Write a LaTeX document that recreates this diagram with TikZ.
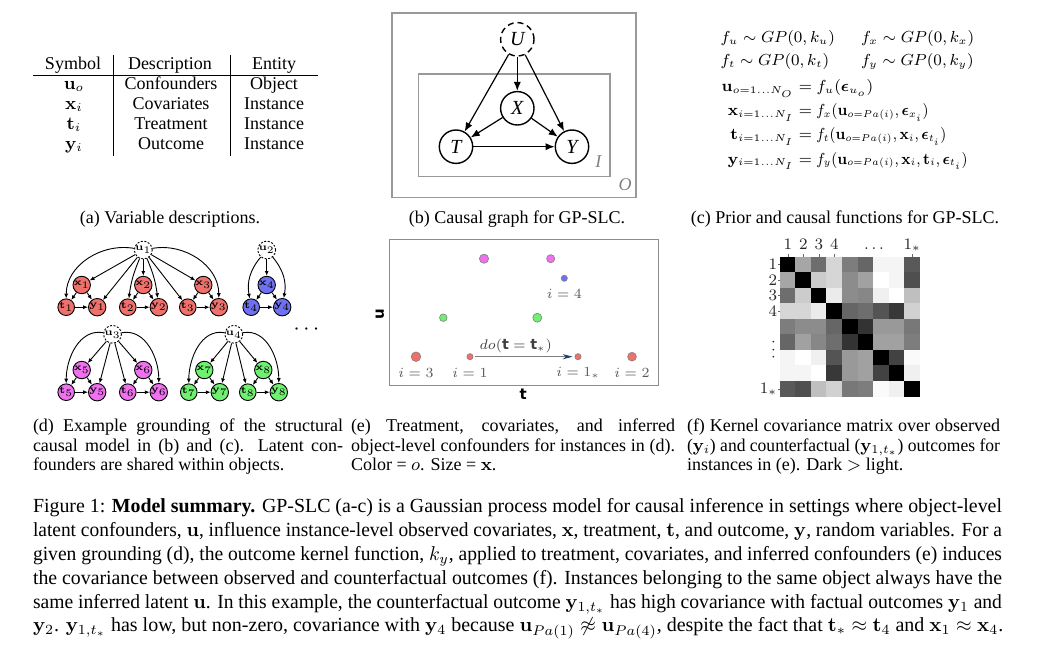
\documentclass[tikz,border=0pt]{standalone}
\usepackage[no-math]{fontspec}
\setmainfont{Liberation Serif}
\newfontfamily\dejavu{DejaVu Sans}
\usepackage{amsmath,amssymb,graphicx}
\usetikzlibrary{arrows.meta}
\definecolor{nred}{RGB}{240,112,108}
\definecolor{nblue}{RGB}{112,112,242}
\definecolor{nmag}{RGB}{240,112,240}
\definecolor{ngreen}{RGB}{112,240,112}
\definecolor{arrowblue}{RGB}{25,65,110}
\newcommand{\capfont}{\fontsize{10}{12}\selectfont}
\newcommand{\subcapfont}{\fontsize{9}{9.75}\selectfont}
% justified single line: spread spaces, or squeeze horizontally if too wide
\newcommand{\jline}[2]{\setbox0=\hbox{#2}\ifdim\wd0>#1\relax\resizebox{#1}{\height}{#2}\else\makebox[#1][s]{#2}\fi}
\begin{document}
\begin{tikzpicture}[x=0.5pt,y=-0.5pt,
  txt/.style={inner sep=0pt,outer sep=0pt},
  tabtxt/.style={txt,anchor=base,font=\fontsize{9}{10}\selectfont},
  bnode/.style={circle,draw,line width=0.7pt,minimum size=16.7pt,inner sep=0pt,font=\fontsize{10}{10}\selectfont\itshape},
  barrow/.style={-{Latex[length=4.5pt,width=3.6pt]},line width=0.6pt},
  platebox/.style={draw=black!40,line width=0.8pt},
  platelabel/.style={txt,text=black!50,font=\fontsize{9}{9}\selectfont\itshape},
  dnode/.style={circle,draw,line width=0.45pt,minimum size=7.6pt,inner sep=0pt,font=\fontsize{5.5}{5.5}\selectfont},
  unode/.style={dnode,fill=white,dash pattern=on 1pt off 0.8pt},
  darrow/.style={-{Latex[length=2.4pt,width=2pt]},line width=0.45pt},
  pnt/.style={circle,draw=black!50,line width=0.3pt,inner sep=0pt},
  plab/.style={txt,text=black!65,font=\fontsize{7.2}{7.2}\selectfont},
  eqtxt/.style={txt,font=\fontsize{7.8}{9}\selectfont},
  mlab/.style={txt,font=\fontsize{8}{8}\selectfont,text=black!85},
  sublinestyle/.style={txt,anchor=base west,font=\subcapfont},
  caplinestyle/.style={txt,anchor=base west,font=\capfont}
]
\useasboundingbox (0,0) rectangle (1061,658);

% ---------------- (a) table ----------------
\node[tabtxt] (hsym) at (73,69.3) {Symbol};
\node[tabtxt] (hdesc) at (170,69.3) {Description};
\node[tabtxt] (hent) at (274,69.3) {Entity};
\foreach \s/\d/\e [count=\k] in {{$\mathbf{u}_o$}/Confounders/Object,{$\mathbf{x}_i$}/Covariates/Instance,{$\mathbf{t}_i$}/Treatment/Instance,{$\mathbf{y}_i$}/Outcome/Instance}{
  \node[tabtxt] (sym\k) at (74,{69.3+20*\k}) {\s};
  \node[tabtxt] (desc\k) at (171,{69.3+20*\k}) {\d};
  \node[tabtxt] (ent\k) at (274,{69.3+20*\k}) {\e};
}
\draw[line width=0.45pt] (33,75) -- (318,75);
\draw[line width=0.45pt] (113.3,55) -- (113.3,156);
\draw[line width=0.45pt] (230.7,55) -- (230.7,156);
\node[txt,anchor=base,font=\subcapfont] (capa) at (170,223) {(a) Variable descriptions.};

% ---------------- (b) causal graph ----------------
\draw[platebox] (391.7,13.3) rectangle (635.7,197.7);
\draw[platebox] (418.3,74.3) rectangle (610,176.7);
\node[platelabel] (plI) at (598.3,161.7) {I};
\node[platelabel] (plO) at (625,185) {O};
\node[bnode,dashed,dash pattern=on 3pt off 2pt] (U) at (517.3,39.3) {U};
\node[bnode] (X) at (517.3,108.3) {X};
\node[bnode] (T) at (456,146.7) {T};
\node[bnode] (Y) at (572,146.7) {Y};
\draw[barrow] (U) -- (T);
\draw[barrow] (U) -- (X);
\draw[barrow] (U) -- (Y);
\draw[barrow] (X) -- (T);
\draw[barrow] (X) -- (Y);
\draw[barrow] (T) -- (Y);
\node[txt,anchor=base,font=\subcapfont] (capb) at (517,223) {(b) Causal graph for GP-SLC.};

% ---------------- (c) equations ----------------
\node[eqtxt,anchor=base west] (e1a) at (720.7,43) {$f_u \sim GP(0,k_u)$};
\node[eqtxt,anchor=base west] (e1b) at (861,43) {$f_x \sim GP(0,k_x)$};
\node[eqtxt,anchor=base west] (e2a) at (720.7,66) {$f_t \sim GP(0,k_t)$};
\node[eqtxt,anchor=base west] (e2b) at (861,66) {$f_y \sim GP(0,k_y)$};
\node[eqtxt,anchor=base east] (l3) at (812,92) {$\mathbf{u}_{o=1\ldots N_O} =$};
\node[eqtxt,anchor=base west] (r3) at (812,92) {$\;f_u(\boldsymbol{\epsilon}_{u_o})$};
\node[eqtxt,anchor=base east] (l4) at (812,116) {$\mathbf{x}_{i=1\ldots N_I} =$};
\node[eqtxt,anchor=base west] (r4) at (812,116) {\scalebox{0.9}[1]{$\;f_x(\mathbf{u}_{o=Pa(i)},\boldsymbol{\epsilon}_{x_i})$}};
\node[eqtxt,anchor=base east] (l5) at (812,140) {$\mathbf{t}_{i=1\ldots N_I} =$};
\node[eqtxt,anchor=base west] (r5) at (812,140) {\scalebox{0.9}[1]{$\;f_t(\mathbf{u}_{o=Pa(i)},\mathbf{x}_i,\boldsymbol{\epsilon}_{t_i})$}};
\node[eqtxt,anchor=base east] (l6) at (812,164) {$\mathbf{y}_{i=1\ldots N_I} =$};
\node[eqtxt,anchor=base west] (r6) at (812,164) {\scalebox{0.9}[1]{$\;f_y(\mathbf{u}_{o=Pa(i)},\mathbf{x}_i,\mathbf{t}_i,\boldsymbol{\epsilon}_{t_i})$}};
\node[txt,anchor=base,font=\subcapfont] (capc) at (845,223) {(c) Prior and causal functions for GP-SLC.};

% ---------------- (d) grounding ----------------
\node[unode] (u1) at (143.3,250) {$\mathbf{u}_1$};
\node[unode] (u2) at (266.7,250) {$\mathbf{u}_2$};
\node[unode] (u3) at (112.5,334.3) {$\mathbf{u}_3$};
\node[unode] (u4) at (233.8,334.3) {$\mathbf{u}_4$};
\foreach \n/\cx/\cy/\col in {1/81.7/285/nred,2/143.3/285/nred,3/203.3/285/nred,4/266.7/285/nblue,5/81.7/370/nmag,6/143.3/370/nmag,7/204.3/370/ngreen,8/263.3/370/ngreen}{
  \node[dnode,fill=\col] (x\n) at (\cx,\cy) {$\mathbf{x}_{\n}$};
  \node[dnode,fill=\col] (t\n) at ({\cx-15.5},{\cy+22.2}) {$\mathbf{t}_{\n}$};
  \node[dnode,fill=\col] (y\n) at ({\cx+15.5},{\cy+22.2}) {$\mathbf{y}_{\n}$};
  \draw[darrow] (x\n) -- (t\n);
  \draw[darrow] (x\n) -- (y\n);
  \draw[darrow] (t\n) -- (y\n);
}
\draw[darrow] (u1) to[out=170,in=90] (t1);
\draw[darrow] (u1) -- (x1);
\draw[darrow] (u1) -- (y1);
\draw[darrow] (u1) to[bend right=8] (t2);
\draw[darrow] (u1) -- (x2);
\draw[darrow] (u1) to[bend left=8] (y2);
\draw[darrow] (u1) -- (t3);
\draw[darrow] (u1) -- (x3);
\draw[darrow] (u1) to[out=10,in=90] (y3);
\draw[darrow] (u2) to[bend right=25] (t4);
\draw[darrow] (u2) -- (x4);
\draw[darrow] (u2) to[bend left=25] (y4);
\draw[darrow] (u3) to[out=170,in=90] (t5);
\draw[darrow] (u3) -- (x5);
\draw[darrow] (u3) -- (y5);
\draw[darrow] (u3) -- (t6);
\draw[darrow] (u3) -- (x6);
\draw[darrow] (u3) to[out=10,in=90] (y6);
\draw[darrow] (u4) to[out=170,in=90] (t7);
\draw[darrow] (u4) -- (x7);
\draw[darrow] (u4) -- (y7);
\draw[darrow] (u4) -- (t8);
\draw[darrow] (u4) -- (x8);
\draw[darrow] (u4) to[out=10,in=90] (y8);
\node[txt,font=\fontsize{11}{11}\selectfont] (dots) at (308.3,329.3) {$\cdots$};

% ---------------- (e) scatter ----------------
\draw[draw=black!45,line width=0.5pt] (389,239) rectangle (658.7,385.7);
\node[txt,rotate=90,font=\dejavu\bfseries\fontsize{7.5}{7.5}\selectfont] (ulab) at (380,314.3) {u};
\node[txt,font=\dejavu\bfseries\fontsize{7.5}{7.5}\selectfont] (tlab) at (523.3,394.3) {t};
\node[pnt,fill=nmag,minimum size=4.6pt] (pm1) at (484,258.7) {};
\node[pnt,fill=nmag,minimum size=4.1pt] (pm2) at (550.7,258.7) {};
\node[pnt,fill=nblue,minimum size=3.1pt] (pb) at (564.3,278.3) {};
\node[pnt,fill=ngreen,minimum size=3.8pt] (pg1) at (443.3,317.7) {};
\node[pnt,fill=ngreen,minimum size=4.5pt] (pg2) at (537.3,317.7) {};
\node[pnt,fill=nred,minimum size=4.8pt] (pr3) at (416,356.7) {};
\node[pnt,fill=nred,minimum size=3.1pt] (pr1) at (470,356.7) {};
\node[pnt,fill=nred,minimum size=3.1pt] (pr1s) at (578,356.7) {};
\node[pnt,fill=nred,minimum size=4.4pt] (pr2) at (632,356.7) {};
\node[plab] (l4) at (564.3,293.5) {$i=4$};
\node[plab] (l3) at (416,373.3) {$i=3$};
\node[plab] (l1) at (470,373.3) {$i=1$};
\node[plab] (l1s) at (578,373.3) {$i=1_*$};
\node[plab] (l2) at (632,373.3) {$i=2$};
\draw[draw=black!50,line width=0.5pt,shorten <=1pt,shorten >=1pt,-{Stealth[length=5pt,width=2.6pt,color=arrowblue]}] (pr1) -- (pr1s);
\node[plab,text=black!75] (dolab) at (515.7,345.5) {$do(\text{\dejavu\bfseries t}=\text{\dejavu\bfseries t}_*)$};

% ---------------- (f) kernel matrix ----------------
\foreach \row [count=\r from 0] in {
  {0,.65,.43,.84,.49,.40,.96,.96,.35},
  {.65,0,.80,.84,.55,.63,1,.96,.31},
  {.43,.80,0,.92,.55,.53,.94,1,.75},
  {.84,.84,.92,0,.40,.43,.33,.22,.82},
  {.49,.55,.55,.40,0,.20,.60,.60,.47},
  {.40,.63,.53,.43,.20,0,.63,.63,.49},
  {.96,1,.94,.33,.60,.63,0,.26,.98},
  {.96,.96,1,.22,.60,.63,.26,0,.94},
  {.35,.31,.75,.82,.47,.49,.98,.94,0}}{
  \foreach \v [count=\c from 0] in \row {
    \pgfmathsetmacro\pct{100*(1-\v)}
    \fill[black!\pct] ({780+\c*15.556-0.2},{256.7+\r*15.556-0.2}) rectangle ++(15.956,15.956);
  }
}
\foreach \c/\lab in {0/1,1/2,2/3,3/4,8/1_*}{
  \draw[black!60,line width=0.3pt] ({787.8+\c*15.556},256.7) -- ++(0,-2.5);
  \node[mlab,anchor=base] (ct\c) at ({787.8+\c*15.556},249.5) {$\lab$};
}
\node[mlab,anchor=base] (ctdots) at (874,249.5) {$\ldots$};
\foreach \r/\lab in {0/1,1/2,2/3,3/4,8/1_*}{
  \draw[black!60,line width=0.3pt] (780,{264.5+\r*15.556}) -- ++(-2.5,0);
  \node[mlab,anchor=east] (rt\r) at (777,{264.5+\r*15.556}) {$\lab$};
}
\node[mlab,rotate=90] (rtdots) at (773.5,350) {$\ldots$};

% ---------------- subcaptions ----------------
\node[sublinestyle] (capd1) at (33,431.7) {\jline{155pt}{(d) Example grounding of the structural}};
\node[sublinestyle] (capd2) at (33,451.2) {\jline{155pt}{causal model in (b) and (c).  Latent con-}};
\node[sublinestyle] (capd3) at (33,470.7) {founders are shared within objects.};
\node[sublinestyle] (cape1) at (351,431.7) {\jline{162pt}{(e) Treatment, covariates, and inferred}};
\node[sublinestyle] (cape2) at (351,451.2) {\jline{162pt}{object-level confounders for instances in (d).}};
\node[sublinestyle] (cape3) at (351,470.7) {Color = $o$. Size = $\mathbf{x}$.};
\node[sublinestyle] (capf1) at (687,431.7) {\jline{156.5pt}{(f) Kernel covariance matrix over observed}};
\node[sublinestyle] (capf2) at (687,451.2) {\jline{156.5pt}{($\mathbf{y}_i$) and counterfactual ($\mathbf{y}_{1,t_*}$) outcomes for}};
\node[sublinestyle] (capf3) at (687,470.7) {instances in (e). Dark $>$ light.};

% ---------------- main caption ----------------
\node[caplinestyle] (cap1) at (33,512.3) {\jline{484.5pt}{Figure 1: \textbf{Model summary.} GP-SLC (a-c) is a Gaussian process model for causal inference in settings where object-level}};
\node[caplinestyle] (cap2) at (33,536.5) {\jline{484.5pt}{latent confounders, $\mathbf{u}$, influence instance-level observed covariates, $\mathbf{x}$, treatment, $\mathbf{t}$, and outcome, $\mathbf{y}$, random variables. For a}};
\node[caplinestyle] (cap3) at (33,560.5) {\jline{484.5pt}{given grounding (d), the outcome kernel function, $k_y$, applied to treatment, covariates, and inferred confounders (e) induces}};
\node[caplinestyle] (cap4) at (33,584.5) {\jline{484.5pt}{the covariance between observed and counterfactual outcomes (f). Instances belonging to the same object always have the}};
\node[caplinestyle] (cap5) at (33,608.3) {\jline{484.5pt}{same inferred latent $\mathbf{u}$. In this example, the counterfactual outcome $\mathbf{y}_{1,t_*}$ has high covariance with factual outcomes $\mathbf{y}_1$ and}};
\node[caplinestyle] (cap6) at (33,631.5) {$\mathbf{y}_2$. $\mathbf{y}_{1,t_*}$ has low, but non-zero, covariance with $\mathbf{y}_4$ because $\mathbf{u}_{Pa(1)} \not\approx \mathbf{u}_{Pa(4)}$, despite the fact that $\mathbf{t}_* \approx \mathbf{t}_4$ and $\mathbf{x}_1 \approx \mathbf{x}_4$.};
\end{tikzpicture}
\end{document}
